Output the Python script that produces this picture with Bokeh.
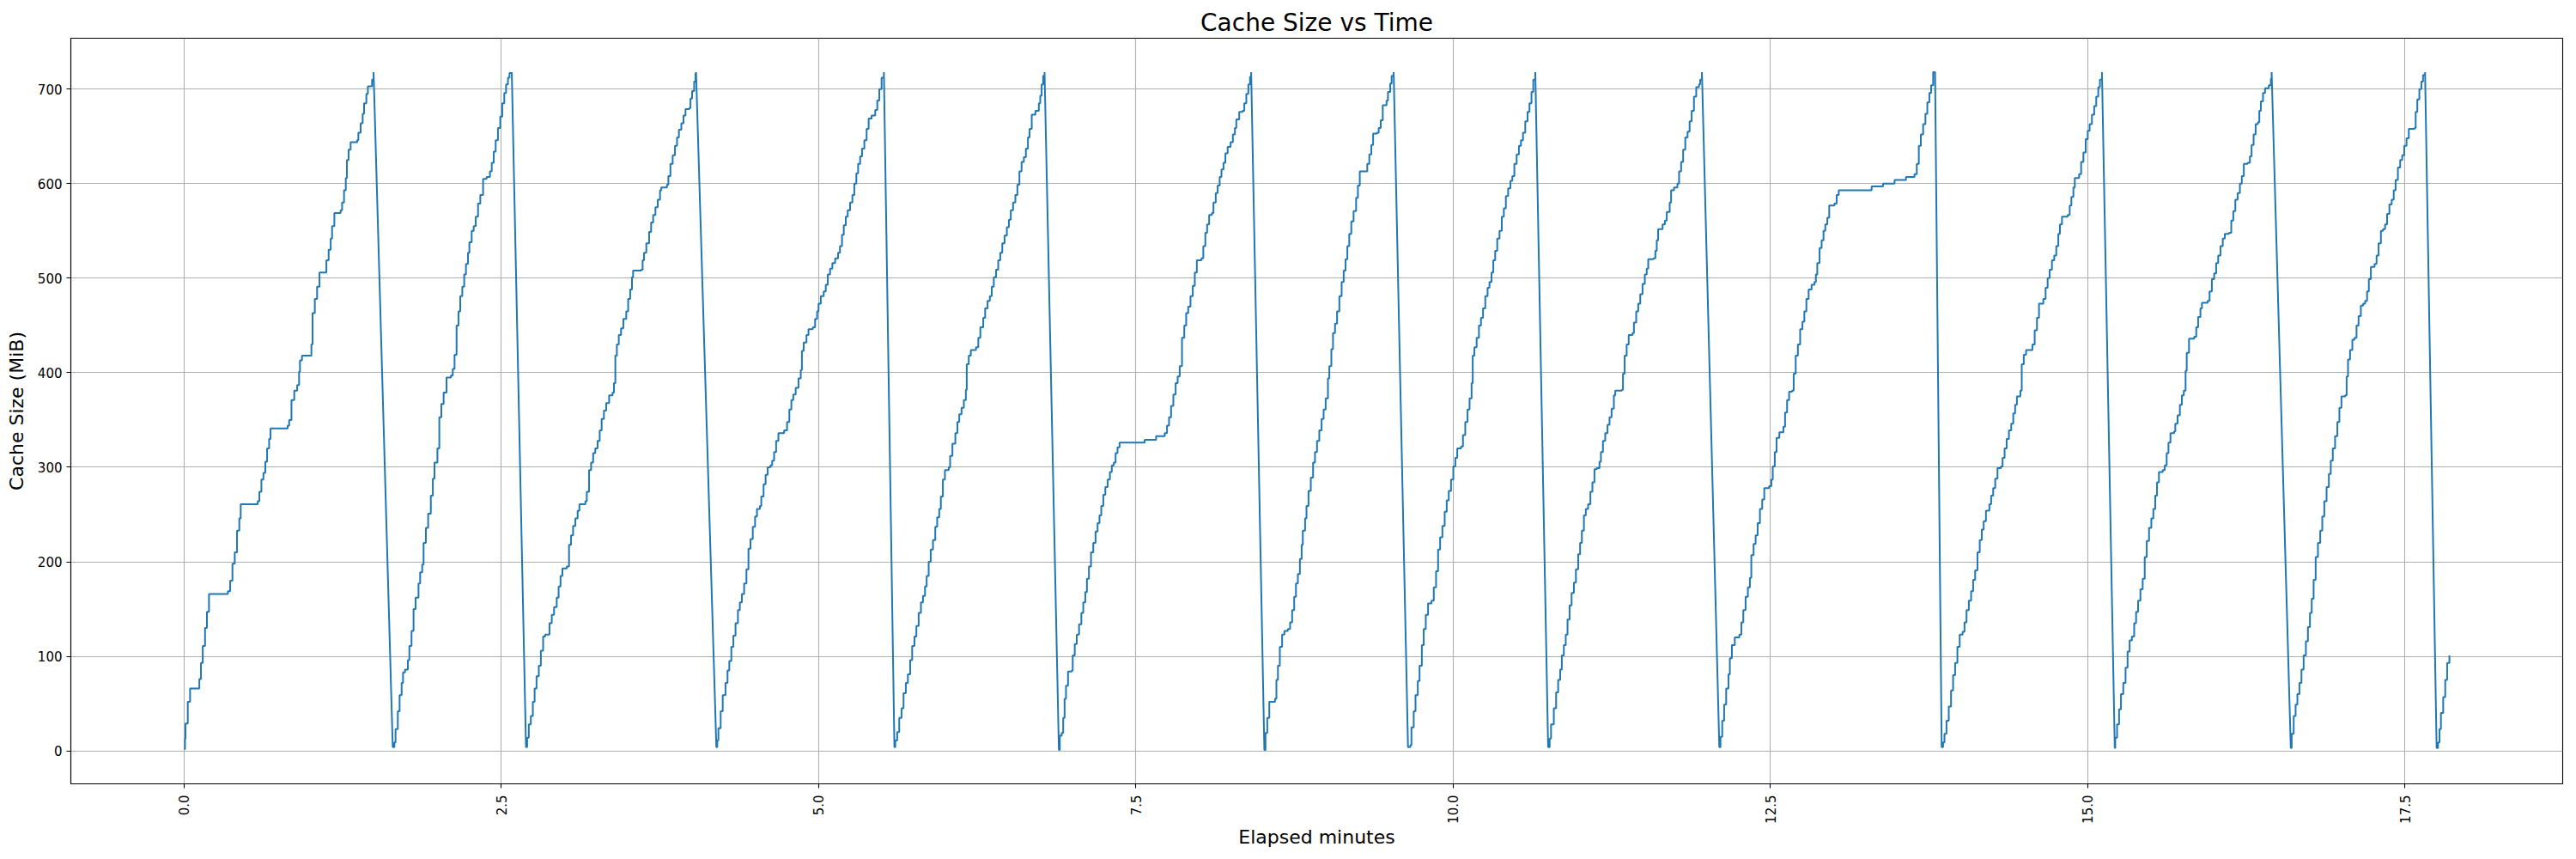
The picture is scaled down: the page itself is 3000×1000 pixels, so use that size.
import math
from bokeh.plotting import figure
from bokeh.models import Range1d, FixedTicker, NumeralTickFormatter, ColumnDataSource
from bokeh.embed import file_html
from bokeh.resources import INLINE

# ---- data: (elapsed minutes, cache size MiB) at each step of every fill cycle ----
cycle_01 = [(0.000, 2), (0.007, 13), (0.011, 29), (0.029, 52), (0.047, 66), (0.120, 76), (0.133, 93), (0.147, 111),
            (0.165, 130), (0.180, 147), (0.196, 166), (0.345, 169), (0.363, 180), (0.381, 198), (0.399, 210),
            (0.417, 233), (0.435, 246), (0.446, 261), (0.580, 264), (0.593, 274), (0.609, 287), (0.625, 294),
            (0.640, 306), (0.654, 320), (0.670, 330), (0.681, 341), (0.816, 344), (0.828, 350), (0.846, 371),
            (0.868, 381), (0.891, 387), (0.906, 401), (0.913, 413), (0.929, 418), (1.003, 430), (1.012, 463),
            (1.030, 478), (1.048, 491), (1.067, 506), (1.121, 519), (1.139, 530), (1.155, 542), (1.166, 555),
            (1.184, 569), (1.233, 572), (1.245, 580), (1.260, 593), (1.274, 606), (1.283, 625), (1.296, 636),
            (1.312, 644), (1.364, 646), (1.373, 654), (1.391, 664), (1.407, 674), (1.418, 685), (1.436, 695),
            (1.448, 703), (1.481, 710), (1.493, 718)]
cycle_02 = [(1.644, 4), (1.657, 9), (1.666, 23), (1.684, 42), (1.698, 59), (1.714, 72), (1.725, 83), (1.741, 86),
            (1.763, 96), (1.775, 111), (1.792, 127), (1.808, 150), (1.824, 162), (1.847, 177), (1.860, 189),
            (1.876, 197), (1.887, 220), (1.905, 236), (1.923, 251), (1.944, 270), (1.960, 288), (1.973, 305),
            (1.996, 320), (2.011, 353), (2.027, 367), (2.045, 379), (2.068, 395), (2.102, 397), (2.117, 404),
            (2.131, 419), (2.147, 450), (2.162, 465), (2.176, 481), (2.192, 491), (2.207, 504), (2.221, 515),
            (2.237, 527), (2.248, 538), (2.266, 550), (2.282, 555), (2.298, 565), (2.316, 579), (2.334, 588),
            (2.356, 605), (2.384, 607), (2.410, 613), (2.424, 622), (2.440, 634), (2.455, 646), (2.473, 659),
            (2.491, 671), (2.507, 685), (2.523, 696), (2.537, 705), (2.552, 712), (2.564, 717), (2.582, 718)]
cycle_03 = [(2.694, 4), (2.703, 14), (2.716, 28), (2.732, 37), (2.748, 52), (2.762, 66), (2.777, 79), (2.795, 90),
            (2.811, 106), (2.829, 121), (2.845, 123), (2.879, 135), (2.897, 144), (2.915, 152), (2.936, 162),
            (2.951, 174), (2.966, 185), (2.981, 193), (3.015, 195), (3.033, 218), (3.049, 228), (3.065, 238),
            (3.083, 246), (3.101, 254), (3.115, 261), (3.162, 264), (3.173, 274), (3.191, 297), (3.207, 305),
            (3.223, 315), (3.240, 320), (3.258, 328), (3.275, 339), (3.290, 351), (3.308, 360), (3.326, 368),
            (3.349, 376), (3.376, 379), (3.387, 389), (3.398, 418), (3.410, 430), (3.425, 440), (3.443, 447),
            (3.461, 457), (3.484, 465), (3.499, 478), (3.515, 488), (3.529, 501), (3.538, 508), (3.601, 509),
            (3.613, 519), (3.624, 527), (3.642, 537), (3.664, 549), (3.680, 559), (3.696, 567), (3.714, 575),
            (3.732, 583), (3.750, 593), (3.760, 596), (3.805, 599), (3.816, 608), (3.832, 621), (3.850, 630),
            (3.868, 640), (3.884, 649), (3.899, 657), (3.918, 664), (3.935, 672), (3.951, 679), (3.981, 680),
            (3.990, 690), (4.003, 698), (4.019, 708), (4.030, 717), (4.034, 718)]
cycle_04 = [(4.194, 4), (4.201, 11), (4.210, 24), (4.228, 42), (4.244, 59), (4.266, 72), (4.282, 85), (4.296, 95),
            (4.312, 110), (4.328, 122), (4.345, 135), (4.364, 149), (4.379, 157), (4.395, 166), (4.413, 177),
            (4.431, 192), (4.447, 214), (4.463, 224), (4.481, 237), (4.499, 248), (4.514, 256), (4.537, 259),
            (4.548, 269), (4.566, 282), (4.582, 292), (4.598, 300), (4.620, 302), (4.634, 307), (4.649, 316),
            (4.665, 328), (4.683, 336), (4.728, 339), (4.751, 348), (4.769, 361), (4.785, 371), (4.800, 377),
            (4.819, 384), (4.841, 394), (4.859, 403), (4.868, 423), (4.882, 432), (4.904, 440), (4.920, 446),
            (4.954, 448), (4.972, 457), (4.988, 465), (4.999, 473), (5.017, 481), (5.040, 486), (5.056, 493),
            (5.072, 504), (5.090, 510), (5.108, 516), (5.130, 521), (5.153, 527), (5.168, 534), (5.184, 546),
            (5.198, 556), (5.214, 565), (5.229, 572), (5.248, 580), (5.266, 588), (5.281, 600), (5.297, 611),
            (5.311, 621), (5.327, 629), (5.342, 637), (5.360, 646), (5.378, 658), (5.394, 669), (5.417, 672),
            (5.446, 678), (5.462, 688), (5.478, 700), (5.496, 712), (5.514, 718)]
cycle_05 = [(5.597, 4), (5.604, 11), (5.619, 20), (5.635, 35), (5.653, 45), (5.669, 61), (5.687, 72), (5.703, 81),
            (5.721, 96), (5.737, 111), (5.755, 121), (5.770, 132), (5.788, 146), (5.806, 157), (5.822, 164),
            (5.838, 174), (5.851, 185), (5.867, 200), (5.883, 213), (5.901, 223), (5.919, 237), (5.934, 247),
            (5.950, 256), (5.963, 269), (5.979, 287), (5.995, 297), (6.025, 300), (6.036, 312), (6.054, 325),
            (6.077, 336), (6.093, 348), (6.108, 356), (6.126, 363), (6.144, 371), (6.160, 382), (6.167, 409),
            (6.183, 418), (6.199, 424), (6.240, 427), (6.258, 437), (6.274, 448), (6.297, 458), (6.312, 468),
            (6.331, 476), (6.349, 481), (6.364, 491), (6.380, 501), (6.398, 509), (6.415, 519), (6.431, 527),
            (6.447, 537), (6.465, 545), (6.483, 554), (6.499, 562), (6.514, 572), (6.532, 580), (6.550, 588),
            (6.566, 599), (6.582, 613), (6.599, 623), (6.617, 628), (6.633, 637), (6.649, 649), (6.662, 658),
            (6.679, 673), (6.708, 677), (6.735, 685), (6.746, 693), (6.757, 705), (6.769, 714), (6.780, 718)]
cycle_06 = [(6.893, 1), (6.900, 16), (6.915, 19), (6.927, 35), (6.938, 55), (6.949, 69), (6.965, 84), (6.995, 85),
            (7.002, 101), (7.018, 113), (7.034, 123), (7.052, 134), (7.070, 146), (7.085, 157), (7.101, 168),
            (7.114, 182), (7.130, 195), (7.146, 210), (7.164, 220), (7.182, 232), (7.198, 241), (7.213, 249),
            (7.227, 259), (7.243, 271), (7.259, 279), (7.277, 287), (7.295, 295), (7.310, 302), (7.326, 305),
            (7.340, 315), (7.355, 321), (7.371, 326), (7.569, 329), (7.659, 333), (7.727, 336), (7.745, 344),
            (7.761, 353), (7.777, 365), (7.795, 377), (7.813, 389), (7.829, 396), (7.845, 407), (7.863, 437),
            (7.881, 450), (7.896, 463), (7.912, 470), (7.930, 481), (7.948, 492), (7.964, 506), (7.980, 519),
            (8.016, 521), (8.031, 534), (8.047, 548), (8.061, 557), (8.077, 567), (8.099, 569), (8.111, 580),
            (8.129, 590), (8.144, 598), (8.160, 607), (8.174, 615), (8.190, 622), (8.205, 632), (8.223, 639),
            (8.246, 644), (8.264, 652), (8.280, 659), (8.291, 668), (8.314, 676), (8.341, 677), (8.354, 685),
            (8.370, 695), (8.386, 705), (8.399, 713), (8.408, 718)]
cycle_07 = [(8.512, 1), (8.521, 19), (8.535, 35), (8.551, 52), (8.596, 55), (8.607, 75), (8.619, 90), (8.634, 110),
            (8.652, 123), (8.670, 127), (8.697, 129), (8.715, 136), (8.731, 149), (8.747, 163), (8.761, 177),
            (8.776, 187), (8.792, 203), (8.806, 218), (8.815, 233), (8.833, 246), (8.844, 259), (8.860, 275),
            (8.878, 289), (8.896, 305), (8.911, 316), (8.927, 328), (8.945, 339), (8.963, 351), (8.979, 361),
            (8.995, 373), (9.013, 394), (9.024, 407), (9.040, 425), (9.053, 442), (9.069, 452), (9.085, 465),
            (9.103, 481), (9.121, 496), (9.137, 508), (9.152, 520), (9.166, 534), (9.181, 547), (9.197, 560),
            (9.215, 571), (9.235, 585), (9.249, 598), (9.264, 613), (9.323, 621), (9.339, 631), (9.355, 641),
            (9.369, 653), (9.400, 654), (9.413, 659), (9.429, 667), (9.445, 683), (9.475, 688), (9.486, 697),
            (9.504, 706), (9.515, 714), (9.531, 718)]
cycle_08 = [(9.644, 4), (9.662, 6), (9.671, 25), (9.689, 42), (9.703, 59), (9.721, 74), (9.735, 90), (9.753, 112),
            (9.768, 129), (9.784, 144), (9.802, 156), (9.829, 159), (9.847, 173), (9.865, 190), (9.881, 213),
            (9.897, 226), (9.915, 238), (9.933, 253), (9.949, 265), (9.965, 275), (9.983, 287), (10.001, 301),
            (10.017, 310), (10.032, 320), (10.062, 322), (10.077, 334), (10.095, 348), (10.113, 361), (10.129, 373),
            (10.145, 389), (10.154, 418), (10.167, 427), (10.185, 437), (10.203, 450), (10.219, 458), (10.235, 468),
            (10.253, 481), (10.271, 490), (10.286, 496), (10.302, 506), (10.316, 519), (10.331, 529), (10.347, 542),
            (10.365, 550), (10.383, 565), (10.399, 574), (10.415, 587), (10.433, 595), (10.451, 603), (10.466, 608),
            (10.482, 621), (10.500, 631), (10.518, 640), (10.534, 646), (10.550, 654), (10.568, 666), (10.586, 676),
            (10.601, 685), (10.617, 697), (10.631, 710), (10.647, 718)]
cycle_09 = [(10.748, 4), (10.760, 13), (10.771, 28), (10.793, 45), (10.811, 62), (10.827, 75), (10.843, 86),
            (10.856, 101), (10.872, 112), (10.887, 123), (10.901, 139), (10.917, 154), (10.933, 167), (10.951, 178),
            (10.967, 192), (10.985, 208), (11.000, 220), (11.014, 233), (11.030, 249), (11.045, 256), (11.063, 261),
            (11.081, 274), (11.097, 284), (11.113, 298), (11.131, 299), (11.153, 306), (11.164, 316), (11.180, 328),
            (11.198, 336), (11.216, 345), (11.232, 353), (11.248, 362), (11.266, 376), (11.277, 381), (11.329, 382),
            (11.338, 399), (11.351, 418), (11.367, 430), (11.383, 440), (11.413, 442), (11.424, 453), (11.442, 465),
            (11.458, 473), (11.474, 483), (11.492, 494), (11.510, 504), (11.525, 510), (11.537, 520), (11.577, 521),
            (11.593, 529), (11.604, 540), (11.615, 552), (11.650, 557), (11.668, 561), (11.683, 570), (11.706, 580),
            (11.717, 593), (11.740, 596), (11.767, 600), (11.780, 613), (11.796, 623), (11.812, 636), (11.829, 649),
            (11.847, 655), (11.863, 666), (11.879, 677), (11.897, 692), (11.915, 702), (11.937, 705), (11.946, 710),
            (11.960, 718)]
cycle_10 = [(12.097, 4), (12.106, 15), (12.120, 32), (12.135, 49), (12.151, 66), (12.169, 81), (12.180, 98),
            (12.196, 112), (12.219, 120), (12.255, 123), (12.271, 136), (12.286, 149), (12.304, 163), (12.322, 173),
            (12.338, 183), (12.349, 207), (12.367, 219), (12.383, 228), (12.399, 241), (12.417, 256), (12.435, 266),
            (12.451, 278), (12.489, 280), (12.507, 287), (12.518, 301), (12.534, 316), (12.548, 331), (12.570, 337),
            (12.602, 343), (12.615, 358), (12.631, 371), (12.647, 380), (12.670, 381), (12.683, 399), (12.699, 418),
            (12.716, 430), (12.734, 446), (12.752, 454), (12.767, 465), (12.783, 478), (12.801, 488), (12.824, 493),
            (12.847, 496), (12.858, 504), (12.869, 516), (12.887, 532), (12.903, 540), (12.918, 550), (12.932, 557),
            (12.948, 564), (12.963, 577), (13.004, 579), (13.022, 588), (13.038, 593), (13.297, 597), (13.387, 600),
            (13.478, 604), (13.568, 607), (13.635, 610), (13.653, 621), (13.669, 640), (13.685, 652), (13.703, 663),
            (13.721, 674), (13.736, 686), (13.752, 696), (13.766, 704), (13.782, 718), (13.797, 718)]
cycle_11 = [(13.849, 4), (13.860, 9), (13.871, 18), (13.887, 32), (13.905, 47), (13.923, 64), (13.939, 80),
            (13.955, 93), (13.973, 110), (13.991, 123), (14.014, 126), (14.029, 136), (14.045, 149), (14.063, 159),
            (14.081, 169), (14.097, 181), (14.113, 191), (14.131, 210), (14.149, 223), (14.165, 234), (14.180, 243),
            (14.198, 254), (14.225, 261), (14.239, 270), (14.255, 278), (14.271, 288), (14.289, 299), (14.316, 301),
            (14.329, 310), (14.345, 320), (14.361, 330), (14.379, 339), (14.397, 346), (14.413, 357), (14.428, 366),
            (14.442, 375), (14.469, 381), (14.480, 409), (14.496, 419), (14.514, 424), (14.564, 430), (14.582, 445),
            (14.600, 458), (14.616, 473), (14.650, 478), (14.668, 490), (14.684, 500), (14.700, 509), (14.718, 519),
            (14.736, 524), (14.752, 534), (14.768, 547), (14.781, 557), (14.797, 565), (14.842, 567), (14.858, 577),
            (14.871, 586), (14.887, 596), (14.898, 606), (14.932, 610), (14.948, 623), (14.966, 633), (14.984, 647),
            (15.000, 656), (15.015, 663), (15.033, 673), (15.051, 682), (15.067, 692), (15.083, 702), (15.096, 710),
            (15.112, 718)]
cycle_12 = [(15.213, 3), (15.217, 14), (15.231, 28), (15.247, 44), (15.262, 60), (15.280, 72), (15.298, 88),
            (15.314, 105), (15.330, 117), (15.348, 121), (15.366, 135), (15.381, 147), (15.397, 159), (15.415, 171),
            (15.433, 182), (15.449, 205), (15.465, 222), (15.483, 236), (15.501, 246), (15.517, 256), (15.532, 270),
            (15.546, 284), (15.561, 295), (15.591, 297), (15.607, 302), (15.622, 315), (15.636, 326), (15.652, 336),
            (15.681, 338), (15.690, 346), (15.708, 355), (15.726, 366), (15.742, 376), (15.757, 381), (15.771, 402),
            (15.780, 421), (15.798, 436), (15.839, 438), (15.855, 448), (15.870, 459), (15.888, 468), (15.900, 474),
            (15.945, 476), (15.960, 486), (15.978, 499), (15.996, 505), (16.012, 516), (16.028, 524), (16.046, 534),
            (16.064, 542), (16.080, 547), (16.113, 548), (16.131, 561), (16.147, 571), (16.163, 583), (16.181, 590),
            (16.199, 600), (16.214, 608), (16.230, 621), (16.260, 622), (16.278, 629), (16.291, 641), (16.307, 652),
            (16.323, 663), (16.341, 665), (16.352, 677), (16.364, 687), (16.381, 696), (16.397, 701), (16.427, 704),
            (16.443, 711), (16.449, 718)]
cycle_13 = [(16.600, 3), (16.607, 18), (16.623, 37), (16.638, 49), (16.652, 60), (16.668, 72), (16.684, 86),
            (16.701, 101), (16.719, 116), (16.735, 131), (16.751, 146), (16.765, 161), (16.780, 181), (16.796, 205),
            (16.814, 220), (16.832, 233), (16.848, 248), (16.864, 264), (16.882, 279), (16.900, 293), (16.915, 307),
            (16.931, 320), (16.949, 333), (16.967, 348), (16.983, 363), (16.999, 375), (17.028, 376), (17.040, 396),
            (17.051, 414), (17.067, 424), (17.085, 435), (17.102, 437), (17.118, 450), (17.134, 460), (17.152, 471),
            (17.170, 473), (17.186, 476), (17.201, 486), (17.215, 499), (17.231, 512), (17.260, 515), (17.276, 524),
            (17.292, 537), (17.310, 550), (17.327, 552), (17.343, 557), (17.359, 568), (17.377, 578), (17.395, 583),
            (17.411, 593), (17.426, 604), (17.444, 617), (17.462, 625), (17.478, 630), (17.494, 640), (17.512, 648),
            (17.530, 658), (17.575, 659), (17.584, 676), (17.597, 689), (17.613, 700), (17.629, 708), (17.642, 715),
            (17.658, 718)]
cycle_14 = [(17.749, 3), (17.760, 9), (17.772, 23), (17.783, 40), (17.801, 57), (17.817, 75), (17.832, 93),
            (17.850, 101)]

cycles = [cycle_01, cycle_02, cycle_03, cycle_04, cycle_05, cycle_06, cycle_07,
          cycle_08, cycle_09, cycle_10, cycle_11, cycle_12, cycle_13, cycle_14]

x_ticks = [0.0, 2.5, 5.0, 7.5, 10.0, 12.5, 15.0, 17.5]
y_ticks = [0, 100, 200, 300, 400, 500, 600, 700]

# Build the sampled trace: the size holds between samples, then jumps up; the
# flush from the peak to the next cycle's first sample is drawn as a straight segment.
xs, ys = [], []
for cyc in cycles:
    for i, (t, v) in enumerate(cyc):
        if i > 0 and v > ys[-1]:
            xs.append(t)
            ys.append(ys[-1])
        xs.append(t)
        ys.append(v)

all_t = [t for c in cycles for t, _ in c]
all_v = [v for c in cycles for _, v in c]
xpad = 0.05 * (max(all_t) - min(all_t))
ypad = 0.05 * (max(all_v) - min(all_v))

FONT = "DejaVu Sans"

p = figure(width=2996, height=1000, output_backend="svg", toolbar_location=None,
           x_range=Range1d(min(all_t) - xpad, max(all_t) + xpad),
           y_range=Range1d(min(all_v) - ypad, max(all_v) + ypad),
           min_border_left=82, min_border_right=12, min_border_top=44, min_border_bottom=88,
           background_fill_color="white", border_fill_color="white")

p.title.text = "Cache Size vs Time"
p.title.align = "center"
p.title.text_font = FONT
p.title.text_font_size = "28px"
p.title.text_font_style = "normal"
p.title.text_color = "black"
p.title.standoff = 4

src = ColumnDataSource(data=dict(x=xs, y=ys))
p.line("x", "y", source=src, line_color="#1f77b4", line_width=2)

p.xaxis.ticker = FixedTicker(ticks=x_ticks)
p.yaxis.ticker = FixedTicker(ticks=y_ticks)
p.xgrid.ticker = FixedTicker(ticks=x_ticks)
p.ygrid.ticker = FixedTicker(ticks=y_ticks)
p.xaxis.formatter = NumeralTickFormatter(format="0.0")
p.xaxis.major_label_orientation = math.pi / 2

p.xaxis.axis_label = "Elapsed minutes"
p.yaxis.axis_label = "Cache Size (MiB)"
for ax in (p.xaxis[0], p.yaxis[0]):
    ax.axis_label_text_font = FONT
    ax.axis_label_text_font_size = "22px"
    ax.axis_label_text_font_style = "normal"
    ax.axis_label_text_color = "black"
    ax.major_label_text_font = FONT
    ax.major_label_text_font_size = "15px"
    ax.major_label_text_color = "black"
    ax.major_tick_out = 5
    ax.major_tick_in = 0
    ax.major_tick_line_color = "black"
    ax.major_tick_line_width = 1.1
    ax.minor_tick_line_color = None
    ax.axis_line_color = "black"
    ax.axis_line_width = 1.1
    ax.major_label_standoff = 5
p.xaxis.major_label_standoff = 8
p.xaxis.axis_label_standoff = 0
p.yaxis.axis_label_standoff = 9

p.grid.grid_line_color = "#b0b0b0"
p.grid.grid_line_width = 1.1
p.outline_line_color = "black"
p.outline_line_width = 1.1
p.outline_line_alpha = 1.0

open("out.html", "w").write(file_html(p, INLINE))
